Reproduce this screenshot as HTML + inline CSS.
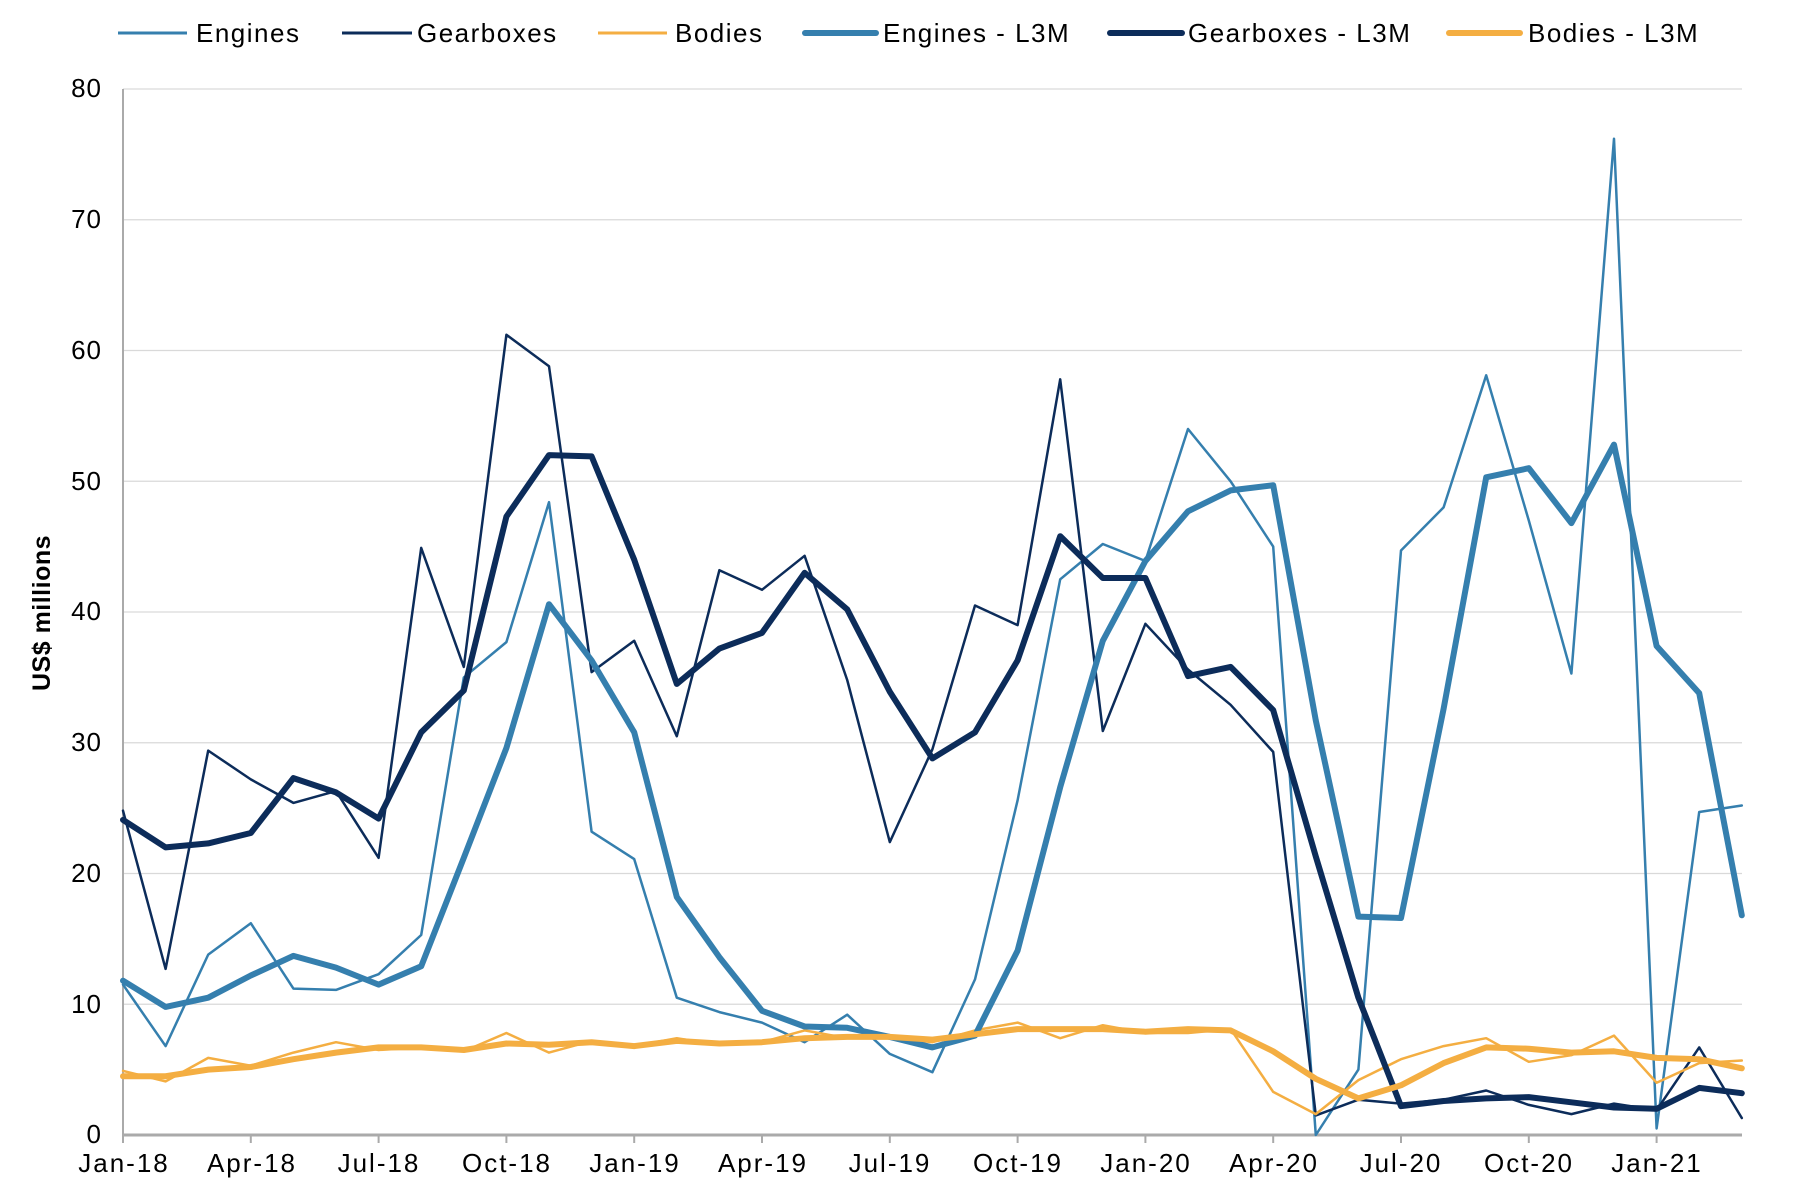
<!DOCTYPE html>
<html><head><meta charset="utf-8"><style>
html,body{margin:0;padding:0;background:#fff;}
svg{display:block;font-family:"Liberation Sans",sans-serif;}
</style></head><body>
<svg id="c" width="1804" height="1194" viewBox="0 0 1804 1194" xmlns="http://www.w3.org/2000/svg">
<g stroke="#d9d9d9" stroke-width="1.3">
<line x1="123" x2="1742" y1="89" y2="89"/><line x1="123" x2="1742" y1="219.75" y2="219.75"/>
<line x1="123" x2="1742" y1="350.5" y2="350.5"/><line x1="123" x2="1742" y1="481.25" y2="481.25"/>
<line x1="123" x2="1742" y1="612" y2="612"/><line x1="123" x2="1742" y1="742.75" y2="742.75"/>
<line x1="123" x2="1742" y1="873.5" y2="873.5"/><line x1="123" x2="1742" y1="1004.25" y2="1004.25"/>
</g>
<line x1="123" x2="123" y1="89" y2="1135" stroke="#aaa" stroke-width="2"/>
<line x1="123" x2="1742" y1="1135" y2="1135" stroke="#aaa" stroke-width="3"/>
<g id="ticks" stroke="#aaa" stroke-width="2"></g>
<g font-size="26" fill="#000" text-anchor="end" letter-spacing="1">
<text x="102" y="97">80</text><text x="102" y="228">70</text><text x="102" y="359">60</text>
<text x="102" y="490">50</text><text x="102" y="620">40</text><text x="102" y="751">30</text>
<text x="102" y="882">20</text><text x="102" y="1013">10</text><text x="102" y="1143">0</text>
</g>
<text transform="translate(50,613) rotate(-90)" font-size="25" font-weight="bold" text-anchor="middle" letter-spacing="0.5">US$ millions</text>
<g font-size="26" text-anchor="middle" letter-spacing="2">
<text x="124" y="1172">Jan-18</text><text x="252" y="1172">Apr-18</text><text x="379" y="1172">Jul-18</text>
<text x="507" y="1172">Oct-18</text><text x="635" y="1172">Jan-19</text><text x="763" y="1172">Apr-19</text>
<text x="890" y="1172">Jul-19</text><text x="1018" y="1172">Oct-19</text><text x="1146" y="1172">Jan-20</text>
<text x="1274" y="1172">Apr-20</text><text x="1401" y="1172">Jul-20</text><text x="1529" y="1172">Oct-20</text>
<text x="1657" y="1172">Jan-21</text>
</g>
<g id="series" fill="none" stroke-linejoin="round" stroke-linecap="round"></g>
<g font-size="26" letter-spacing="1.5">
<line x1="118" x2="187" y1="33" y2="33" stroke="#357fae" stroke-width="3"/><text x="196" y="42">Engines</text>
<line x1="342" x2="412" y1="33" y2="33" stroke="#0c2c5a" stroke-width="3"/><text x="417" y="42">Gearboxes</text>
<line x1="598" x2="667" y1="33" y2="33" stroke="#f4ae42" stroke-width="3"/><text x="675" y="42">Bodies</text>
<line x1="805" x2="876" y1="33" y2="33" stroke="#357fae" stroke-width="6" stroke-linecap="round"/><text x="883" y="42">Engines - L3M</text>
<line x1="1110" x2="1182" y1="33" y2="33" stroke="#0c2c5a" stroke-width="6" stroke-linecap="round"/><text x="1188" y="42">Gearboxes - L3M</text>
<line x1="1449" x2="1520" y1="33" y2="33" stroke="#f4ae42" stroke-width="6" stroke-linecap="round"/><text x="1528" y="42">Bodies - L3M</text>
</g>
</svg>
<script>
var E=[11.5,6.8,13.8,16.2,11.2,11.1,12.3,15.3,35,37.7,48.4,23.2,21.1,10.5,9.4,8.6,7.1,9.2,6.2,4.8,11.9,25.6,42.5,45.2,43.9,54,50,45,0,5,44.7,48,58.1,47,35.3,76.2,0.5,24.7,25.2];
var G=[24.8,12.7,29.4,27.2,25.4,26.3,21.2,44.9,35.8,61.2,58.8,35.4,37.8,30.5,43.2,41.7,44.3,34.8,22.4,29.5,40.5,39,57.8,30.9,39.1,35.6,32.9,29.3,1.5,2.7,2.4,2.7,3.4,2.3,1.6,2.4,1.9,6.7,1.3];
var B=[4.9,4.1,5.9,5.3,6.3,7.1,6.5,6.7,6.4,7.8,6.3,7.2,6.8,7.4,6.9,7.1,8,7.4,7.5,7.1,8,8.6,7.4,8.4,7.8,7.8,8.1,3.3,1.6,4.2,5.8,6.8,7.4,5.6,6.1,7.6,4,5.5,5.7];
var EL=[11.8,9.8,10.5,12.2,13.7,12.8,11.5,12.9,21.2,29.6,40.6,36.3,30.8,18.2,13.6,9.5,8.3,8.2,7.5,6.7,7.6,14.1,26.6,37.8,43.9,47.7,49.3,49.7,31.7,16.7,16.6,32.6,50.3,51,46.8,52.8,37.4,33.8,16.8];
var GL=[24.1,22,22.3,23.1,27.3,26.2,24.2,30.8,34,47.3,52,51.9,44,34.5,37.2,38.4,43,40.2,33.9,28.8,30.8,36.3,45.8,42.6,42.6,35.1,35.8,32.5,21.3,10.5,2.2,2.6,2.8,2.9,2.5,2.1,2,3.6,3.2];
var BL=[4.5,4.5,5,5.2,5.8,6.3,6.7,6.7,6.5,7,6.9,7.1,6.8,7.2,7,7.1,7.4,7.5,7.5,7.3,7.7,8.1,8.1,8.1,7.9,8.1,8,6.4,4.3,2.8,3.8,5.5,6.7,6.6,6.3,6.4,5.9,5.8,5.1];
var ns="http://www.w3.org/2000/svg",g=document.getElementById("series"),t=document.getElementById("ticks");
function X(i){return 123+i*42.6;}function Y(v){return 1135-v*13.075;}
for(var i=0;i<=38;i+=3){var l=document.createElementNS(ns,"line");l.setAttribute("x1",X(i));l.setAttribute("x2",X(i));l.setAttribute("y1",1135);l.setAttribute("y2",1143);t.appendChild(l);}
[[E,"#357fae",2.5],[G,"#0c2c5a",2.5],[B,"#f4ae42",2.5],[EL,"#357fae",6],[GL,"#0c2c5a",6],[BL,"#f4ae42",6]].forEach(function(s){
var p=document.createElementNS(ns,"polyline");p.setAttribute("points",s[0].map(function(v,i){return X(i).toFixed(1)+","+Y(v).toFixed(1);}).join(" "));
p.setAttribute("stroke",s[1]);p.setAttribute("stroke-width",s[2]);g.appendChild(p);});
</script>
</body></html>
